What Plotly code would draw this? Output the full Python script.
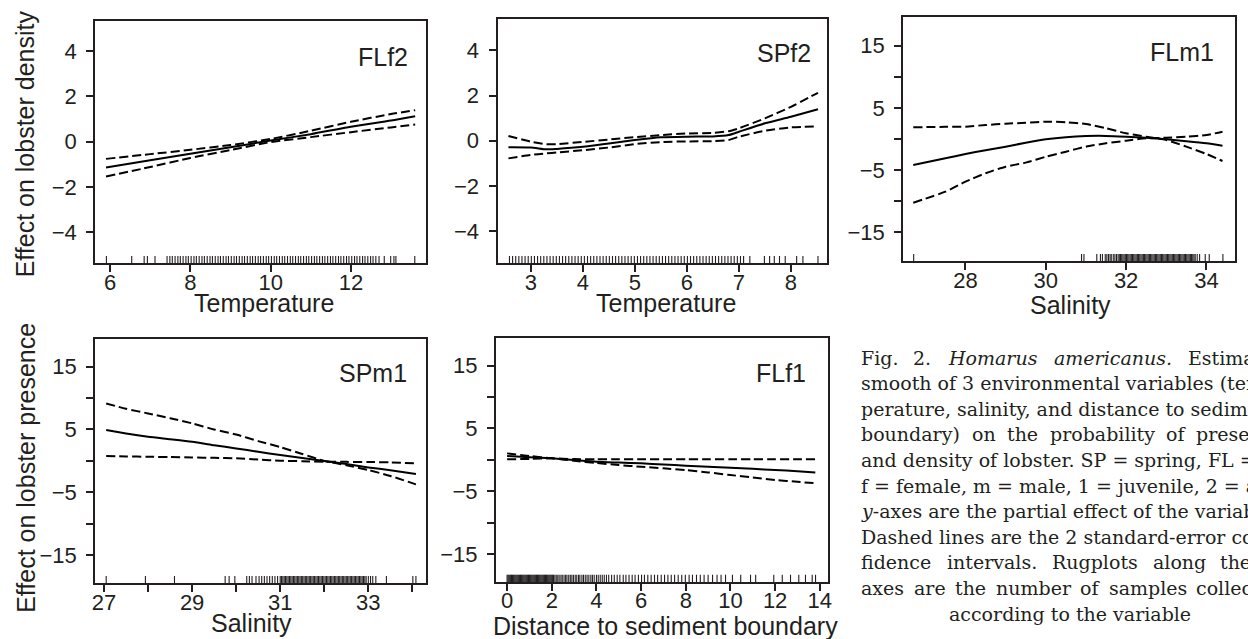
import plotly.graph_objects as go

W, H = 1248, 639
INK = "#231f20"
SANS = "Liberation Sans, Arial, sans-serif"
SERIF = "DejaVu Serif, serif"

# ---------------- data ----------------
# FLf2 : temperature effect on density
flf2_x = [5.9, 7.0, 8.0, 9.0, 10.0, 11.0, 12.0, 13.0, 13.6]
flf2_fit = [-1.14, -0.82, -0.53, -0.25, 0.05, 0.33, 0.66, 0.93, 1.12]
flf2_up = [-0.76, -0.55, -0.36, -0.15, 0.12, 0.48, 0.88, 1.22, 1.39]
flf2_lo = [-1.54, -1.12, -0.72, -0.37, -0.02, 0.20, 0.42, 0.63, 0.76]
flf2_rug = [5.91, 6.54, 6.85, 6.93, 7.12, 7.42, 7.49, 7.55, 7.62, 7.69, 7.75, 7.82, 7.89,
            7.95, 8.02, 8.09, 8.15, 8.22, 8.29, 8.35, 8.42, 8.49, 8.55, 8.62, 8.69, 8.75,
            8.82, 8.89, 8.95, 9.02, 9.09, 9.15, 9.22, 9.29, 9.35, 9.42, 9.49, 9.55, 9.62,
            9.69, 9.75, 9.82, 9.89, 9.95, 10.02, 10.09, 10.15, 10.22, 10.29, 10.35, 10.42,
            10.49, 10.55, 10.62, 10.69, 10.75, 10.82, 10.89, 10.95, 11.02, 11.09, 11.15,
            11.22, 11.29, 11.35, 11.42, 11.49, 11.55, 11.62, 11.69, 11.75, 11.82, 11.89,
            11.95, 12.02, 12.09, 12.15, 12.22, 12.29, 12.35, 12.42, 12.49, 12.55, 12.62,
            12.70, 12.83, 12.99, 13.07, 13.12, 13.59]

# SPf2 : temperature effect on density
spf2_x = [2.57, 3.0, 3.3, 3.5, 4.0, 4.5, 5.0, 5.5, 6.0, 6.5, 6.8, 7.0, 7.5, 8.0, 8.52]
spf2_fit = [-0.29, -0.30, -0.38, -0.36, -0.27, -0.12, 0.03, 0.15, 0.18, 0.19, 0.25, 0.40, 0.77, 1.06, 1.39]
spf2_up = [0.21, -0.04, -0.15, -0.15, -0.05, 0.05, 0.16, 0.25, 0.32, 0.35, 0.42, 0.55, 0.99, 1.50, 2.12]
spf2_lo = [-0.78, -0.63, -0.56, -0.52, -0.42, -0.30, -0.15, -0.06, -0.03, -0.02, 0.03, 0.18, 0.44, 0.59, 0.63]
spf2_rug = [2.59, 2.65, 2.71, 2.77, 2.83, 2.89, 2.95, 3.01, 3.07, 3.13, 3.19, 3.25, 3.31, 3.37,
            3.43, 3.49, 3.55, 3.61, 3.67, 3.73, 3.79, 3.85, 3.91, 3.97, 4.03, 4.09, 4.15, 4.21,
            4.27, 4.33, 4.39, 4.45, 4.51, 4.57, 4.63, 4.69, 4.75, 4.81, 4.87, 4.93, 4.99, 5.05,
            5.11, 5.17, 5.23, 5.29, 5.35, 5.41, 5.47, 5.53, 5.59, 5.65, 5.71, 5.77, 5.83, 5.89,
            5.95, 6.01, 6.07, 6.13, 6.19, 6.25, 6.31, 6.37, 6.43, 6.49, 6.55, 6.61, 6.67, 6.73,
            6.79, 6.85, 6.91, 6.97, 7.03, 7.09, 7.21, 7.49, 7.59, 7.68, 7.78, 7.89, 8.11, 8.23,
            8.52]

# FLm1 : salinity effect on presence
flm1_x = [26.7, 27.5, 28.0, 28.5, 29.0, 29.5, 30.0, 30.5, 31.0, 31.5, 32.0, 32.5, 33.0, 33.5, 34.0, 34.4]
flm1_fit = [-4.18, -3.10, -2.41, -1.80, -1.23, -0.60, -0.05, 0.30, 0.48, 0.50, 0.37, 0.20, -0.05, -0.35, -0.69, -1.07]
flm1_a = [1.88, 1.95, 1.98, 2.25, 2.45, 2.62, 2.78, 2.70, 2.41, 1.72, 0.92, 0.37, -0.16, -1.23, -2.41, -3.54]
flm1_b = [-10.24, -8.47, -6.86, -5.50, -4.45, -3.80, -2.85, -2.04, -1.23, -0.69, -0.27, 0.11, 0.21, 0.37, 0.64, 1.17]
flm1_rug = [26.71, 30.89, 30.95, 31.27, 31.36, 31.41, 31.48, 31.52, 31.56, 31.60, 31.63, 31.68,
            31.72, 31.76, 31.80, 31.83, 31.86, 31.89, 31.92, 31.95, 31.98, 32.01, 32.04, 32.07,
            32.10, 32.13, 32.16, 32.19, 32.22, 32.25, 32.28, 32.31, 32.34, 32.37, 32.40, 32.43,
            32.46, 32.49, 32.52, 32.55, 32.58, 32.61, 32.64, 32.67, 32.70, 32.73, 32.76, 32.79,
            32.82, 32.85, 32.88, 32.91, 32.94, 32.97, 33.00, 33.03, 33.06, 33.09, 33.12, 33.15,
            33.18, 33.21, 33.24, 33.27, 33.30, 33.33, 33.36, 33.39, 33.42, 33.45, 33.48, 33.51,
            33.54, 33.57, 33.60, 33.63, 33.66, 33.69, 33.72, 33.77, 33.83, 33.97, 34.07, 34.41]

# SPm1 : salinity effect on presence
spm1_x = [27.05, 27.5, 28.0, 28.5, 29.0, 29.5, 30.0, 30.5, 31.0, 31.5, 32.0, 32.5, 33.0, 33.5, 34.08]
spm1_fit = [4.90, 4.35, 3.84, 3.45, 3.04, 2.50, 1.98, 1.45, 0.92, 0.45, -0.03, -0.50, -1.04, -1.50, -2.10]
spm1_a = [9.15, 8.30, 7.56, 6.80, 5.97, 5.00, 4.20, 3.15, 2.20, 1.10, 0.00, -0.70, -1.46, -2.40, -3.75]
spm1_b = [0.76, 0.70, 0.66, 0.60, 0.55, 0.48, 0.40, 0.20, 0.03, -0.05, -0.14, -0.16, -0.18, -0.24, -0.40]
spm1_rug = [27.05, 27.94, 28.60, 29.75, 29.84, 29.97, 30.24, 30.30, 30.36, 30.45, 30.52, 30.58,
            30.64, 30.70, 30.76, 30.82, 30.88, 30.94, 31.00, 31.03, 31.06, 31.09, 31.12, 31.15,
            31.18, 31.21, 31.24, 31.27, 31.30, 31.33, 31.36, 31.39, 31.42, 31.45, 31.48, 31.51,
            31.54, 31.57, 31.60, 31.63, 31.66, 31.69, 31.72, 31.75, 31.78, 31.81, 31.84, 31.87,
            31.90, 31.93, 31.96, 31.99, 32.02, 32.05, 32.08, 32.11, 32.14, 32.17, 32.20, 32.23,
            32.26, 32.29, 32.32, 32.35, 32.38, 32.41, 32.44, 32.47, 32.50, 32.53, 32.56, 32.59,
            32.62, 32.65, 32.68, 32.71, 32.74, 32.77, 32.80, 32.83, 32.86, 32.89, 32.92, 32.95,
            33.00, 33.05, 33.10, 33.17, 33.41, 34.01, 34.08]

# FLf1 : distance to sediment boundary effect on presence
flf1_x = [0.0, 1.0, 2.0, 3.0, 4.0, 5.0, 6.0, 7.0, 8.0, 9.0, 10.0, 11.0, 12.0, 13.0, 13.8]
flf1_fit = [0.60, 0.42, 0.24, -0.03, -0.30, -0.43, -0.56, -0.74, -0.93, -1.09, -1.25, -1.43, -1.62, -1.80, -2.00]
flf1_a = [1.03, 0.62, 0.24, -0.15, -0.50, -0.83, -1.10, -1.35, -1.62, -2.00, -2.42, -2.80, -3.20, -3.50, -3.73]
flf1_b = [0.08, 0.15, 0.24, 0.12, 0.08, 0.08, 0.08, 0.08, 0.08, 0.08, 0.08, 0.08, 0.08, 0.08, 0.08]
flf1_rug = [0.00, 0.04, 0.08, 0.12, 0.16, 0.20, 0.24, 0.28, 0.32, 0.36, 0.40, 0.44, 0.48, 0.52,
            0.56, 0.60, 0.64, 0.68, 0.72, 0.76, 0.80, 0.84, 0.88, 0.92, 0.96, 1.00, 1.04, 1.08,
            1.12, 1.16, 1.20, 1.24, 1.28, 1.32, 1.36, 1.40, 1.44, 1.48, 1.52, 1.56, 1.60, 1.64,
            1.68, 1.72, 1.76, 1.80, 1.84, 1.88, 1.92, 1.96, 2.00, 2.04, 2.08, 2.14, 2.20, 2.27,
            2.33, 2.41, 2.47, 2.55, 2.62, 2.68, 2.76, 2.83, 2.90, 2.97, 3.05, 3.12, 3.20, 3.26,
            3.35, 3.42, 3.50, 3.58, 3.66, 3.75, 3.82, 3.90, 4.00, 4.08, 4.17, 4.26, 4.35, 4.45,
            4.55, 4.68, 4.80, 4.93, 5.05, 5.20, 5.32, 5.46, 5.60, 5.73, 5.88, 6.02, 6.15, 6.30,
            6.45, 6.60, 6.74, 6.90, 7.05, 7.20, 7.35, 7.50, 7.66, 7.82, 7.98, 8.15, 8.30, 8.48,
            8.65, 8.82, 9.00, 9.20, 9.40, 9.58, 9.78, 10.09, 10.46, 10.90, 11.13, 11.94, 12.32,
            12.69, 13.06, 13.36, 13.66, 13.81]

# tick labels
ticks_small_y = [-4, -2, 0, 2, 4]
ticks_small_y_text = ["\u22124", "\u22122", "0", "2", "4"]
ticks_big_y = [-15, -10, -5, 0, 5, 10, 15]
ticks_big_y_text = ["\u221215", "", "\u22125", "", "5", "", "15"]
flf2_xt = [6, 8, 10, 12]
spf2_xt = [3, 4, 5, 6, 7, 8]
flm1_xt = [28, 30, 32, 34]
spm1_xt = [27, 28, 29, 30, 31, 32, 33, 34]
spm1_xt_text = ["27", "", "29", "", "31", "", "33", ""]
flf1_xt = [0, 2, 4, 6, 8, 10, 12, 14]

# ---------------- layout ----------------
panels = [
    dict(name="FLf2", x=flf2_x, fit=flf2_fit, a=flf2_up, b=flf2_lo, rug=flf2_rug,
         box=(92.7, 425.0, 20.7, 263.3), xr=[5.63, 13.86], yr=[-5.37, 5.34],
         xt=flf2_xt, xtt=[str(v) for v in flf2_xt], yt=ticks_small_y, ytt=ticks_small_y_text,
         lab=(409.5, 57)),
    dict(name="SPf2", x=spf2_x, fit=spf2_fit, a=spf2_up, b=spf2_lo, rug=spf2_rug,
         box=(497.3, 829.0, 19.3, 263.3), xr=[2.36, 8.70], yr=[-5.42, 5.37],
         xt=spf2_xt, xtt=[str(v) for v in spf2_xt], yt=ticks_small_y, ytt=ticks_small_y_text,
         lab=(815.0, 53)),
    dict(name="FLm1", x=flm1_x, fit=flm1_fit, a=flm1_a, b=flm1_b, rug=flm1_rug,
         box=(905.3, 1239.3, 16.7, 261.3), xr=[26.45, 34.72], yr=[-19.66, 19.66],
         xt=flm1_xt, xtt=[str(v) for v in flm1_xt], yt=ticks_big_y, ytt=ticks_big_y_text,
         lab=(1220.0, 52)),
    dict(name="SPm1", x=spm1_x, fit=spm1_fit, a=spm1_a, b=spm1_b, rug=spm1_rug,
         box=(92.7, 425.0, 339.0, 583.3), xr=[26.80, 34.30], yr=[-19.5, 19.41],
         xt=spm1_xt, xtt=spm1_xt_text, yt=ticks_big_y, ytt=ticks_big_y_text,
         lab=(408.5, 373)),
    dict(name="FLf1", x=flf1_x, fit=flf1_fit, a=flf1_a, b=flf1_b, rug=flf1_rug,
         box=(495.7, 829.7, 338.3, 582.0), xr=[-0.50, 14.37], yr=[-19.46, 19.36],
         xt=flf1_xt, xtt=[str(v) for v in flf1_xt], yt=ticks_big_y, ytt=ticks_big_y_text,
         lab=(810.0, 373)),
]

fig = go.Figure()
annotations = []

def px2x(px):
    return px / W

def py2y(py):
    return 1 - py / H

for i, p in enumerate(panels, start=1):
    xa = "x" if i == 1 else f"x{i}"
    ya = "y" if i == 1 else f"y{i}"
    l, r, t, b = p["box"]
    axis_common = dict(showline=True, mirror=True, linecolor=INK, linewidth=2,
                       ticks="outside", ticklen=7, tickwidth=1.6, tickcolor=INK,
                       showgrid=False, zeroline=False, tickmode="array",
                       tickfont=dict(family=SANS, size=22, color=INK))
    fig.layout[f"xaxis{'' if i == 1 else i}"] = dict(
        axis_common, domain=[px2x(l), px2x(r)], range=p["xr"], anchor=ya,
        tickvals=p["xt"], ticktext=p["xtt"], ticklabelstandoff=-9)
    fig.layout[f"yaxis{'' if i == 1 else i}"] = dict(
        axis_common, domain=[py2y(b), py2y(t)], range=p["yr"], anchor=xa,
        tickvals=p["yt"], ticktext=p["ytt"], ticklabelstandoff=5)

    line_kw = dict(color="black", width=2)
    fig.add_trace(go.Scatter(x=p["x"], y=p["fit"], mode="lines", line=dict(line_kw, shape="spline", smoothing=0.6),
                             xaxis=xa, yaxis=ya, showlegend=False, hoverinfo="skip"))
    for key in ("a", "b"):
        fig.add_trace(go.Scatter(x=p["x"], y=p[key], mode="lines",
                                 line=dict(line_kw, dash="9px,4px", shape="spline", smoothing=0.6),
                                 xaxis=xa, yaxis=ya, showlegend=False, hoverinfo="skip"))
    # rug
    y0 = p["yr"][0]
    h = 0.03 * (p["yr"][1] - p["yr"][0])
    rx, ry = [], []
    for v in p["rug"]:
        rx += [v, v, None]
        ry += [y0, y0 + h, None]
    fig.add_trace(go.Scatter(x=rx, y=ry, mode="lines", line=dict(color=INK, width=1.1),
                             xaxis=xa, yaxis=ya, showlegend=False, hoverinfo="skip"))
    # panel label
    annotations.append(dict(text=p["name"], x=px2x(p["lab"][0]), y=py2y(p["lab"][1]),
                            xref="paper", yref="paper", xanchor="right", yanchor="middle",
                            showarrow=False, font=dict(family=SANS, size=25, color=INK)))

# axis titles
titles = [
    ("Temperature", 262, 303, 0),
    ("Temperature", 667, 303, 0),
    ("Salinity", 1074, 305, 0),
    ("Salinity", 250, 623, 0),
    ("Distance to sediment boundary", 666, 626, 0),
    ("Effect on lobster density", 22.5, 144, -90),
    ("Effect on lobster presence", 22.5, 467.5, -90),
]
for txt, x, y, ang in titles:
    annotations.append(dict(text=txt, x=px2x(x), y=py2y(y), xref="paper", yref="paper",
                            xanchor="center", yanchor="middle", textangle=ang, showarrow=False,
                            font=dict(family=SANS, size=25, color=INK)))

# caption (justified lines placed word by word, others as whole lines)
cap_top = 357.5
cap_step = 25.6
caption_words = [
    [(860.7, "Fig."), (913.3, "2."), (948.3, "<i>Homarus</i>"), (1055, "<i>americanus.</i>"), (1190, "Estimated")],
    [(860.7, "smooth of 3 environmental variables (tem-")],
    [(860.7, "perature, salinity, and distance to sediment")],
    [(860.7, "boundary)"), (972.0, "on"), (1007.5, "the"), (1050.5, "probability"), (1168.0, "of"), (1197.5, "presence")],
    [(860.7, "and density of lobster. SP = spring, FL = fall,")],
    [(860.7, "f = female, m = male, 1 = juvenile, 2 = adult.")],
    [(860.7, "<i>y</i>-axes are the partial effect of the variable.")],
    [(860.7, "Dashed lines are the 2 standard-error con-")],
    [(860.7, "fidence"), (947.3, "intervals."), (1053.0, "Rugplots"), (1154.0, "along"), (1222.0, "the"), (1268.0, "<i>x</i>-")],
    [(860.7, "axes"), (913.8, "are"), (955.5, "the"), (996.5, "number"), (1081.4, "of"), (1109.8, "samples"), (1198.0, "collected")],
]
for li, words in enumerate(caption_words):
    yy = cap_top + li * cap_step
    for x, w in words:
        annotations.append(dict(text=w, x=px2x(x), y=py2y(yy), xref="paper", yref="paper",
                                xanchor="left", yanchor="middle", showarrow=False,
                                font=dict(family=SERIF, size=19, color=INK)))
annotations.append(dict(text="according to the variable", x=px2x(1073), y=py2y(cap_top + 10 * cap_step),
                        xref="paper", yref="paper", xanchor="center", yanchor="middle", showarrow=False,
                        font=dict(family=SERIF, size=19, color=INK)))

fig.update_layout(width=W, height=H, margin=dict(l=0, r=0, t=0, b=0),
                  paper_bgcolor="white", plot_bgcolor="white", annotations=annotations)

fig.write_html("out.html")
